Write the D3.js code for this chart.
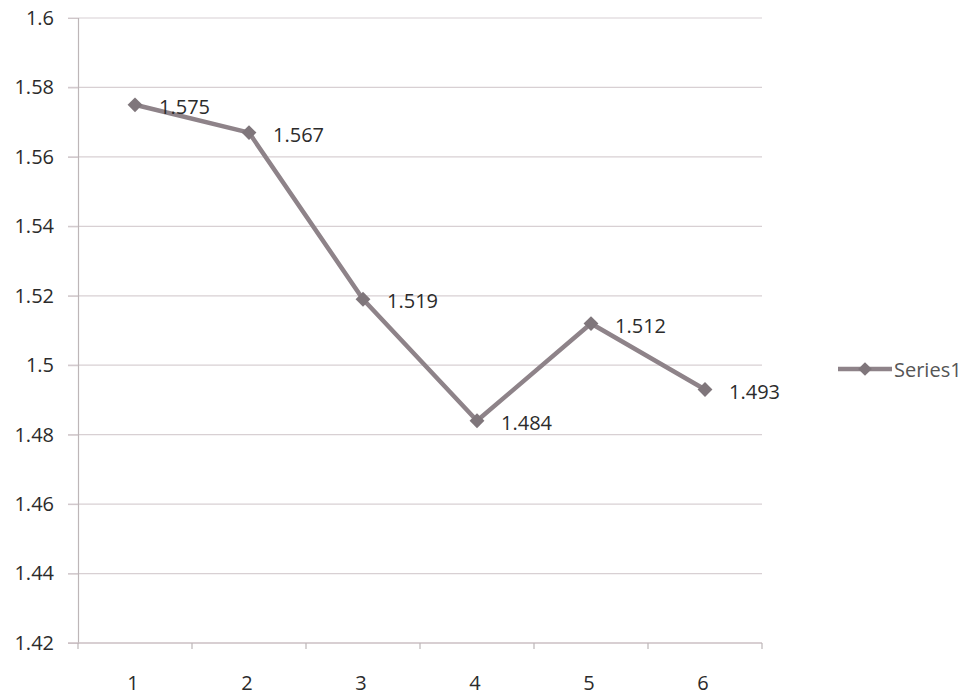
<!DOCTYPE html>
<html>
<head>
<meta charset="utf-8">
<script src="https://cdn.jsdelivr.net/npm/d3@7"></script>
<style>
  html, body { margin: 0; padding: 0; background: #fff; }
  svg { display: block; font-family: "Open Sans", Lato, sans-serif; }
</style>
</head>
<body>
<svg id="chart" width="973" height="698"></svg>
<script>
// Series data
const categories = ["1", "2", "3", "4", "5", "6"];
const values = [1.575, 1.567, 1.519, 1.484, 1.512, 1.493];
const yTicks = [1.42, 1.44, 1.46, 1.48, 1.5, 1.52, 1.54, 1.56, 1.58, 1.6];
const seriesName = "Series1";

const svg = d3.select("#chart");
const plot = { left: 78, right: 762, top: 18, bottom: 643 };

const x = d3.scaleBand().domain(categories).range([plot.left, plot.right]);
const y = d3.scaleLinear().domain([1.42, 1.6]).range([plot.bottom, plot.top]);
const cx = c => x(c) + x.bandwidth() / 2;

const lineColor = "#8e8389";
const markerColor = "#7f767b";
const textColor = "#2b2b2b";
const fontSize = 20;

// horizontal gridlines
svg.append("g")
  .selectAll("line")
  .data(yTicks.filter(d => d > 1.42))
  .join("line")
  .attr("x1", plot.left - 10).attr("x2", plot.right)
  .attr("y1", d => y(d)).attr("y2", d => y(d))
  .attr("stroke", "#d8d0d3").attr("stroke-width", 1.2);

// y axis
const yAxis = svg.append("g")
  .attr("transform", `translate(${plot.left},0)`)
  .call(d3.axisLeft(y).tickValues(yTicks).tickSize(10).tickPadding(14)
    .tickFormat(d => d3.format("")(+d.toFixed(2))));
yAxis.select(".domain").attr("stroke", "#bdb6b8").attr("stroke-width", 1.2);
yAxis.selectAll(".tick line").attr("stroke", "#cfc6c9");
yAxis.selectAll("text").attr("fill", textColor).attr("font-size", fontSize)
  .attr("font-family", "'Open Sans', Lato, sans-serif");

// x axis with boundary ticks
const xg = svg.append("g");
xg.append("line")
  .attr("x1", plot.left - 10).attr("x2", plot.right)
  .attr("y1", plot.bottom).attr("y2", plot.bottom)
  .attr("stroke", "#cbbfc3").attr("stroke-width", 1.4);
const bounds = categories.map(c => x(c)).concat([plot.right]);
xg.selectAll("line.tk").data(bounds).join("line").attr("class", "tk")
  .attr("x1", d => d).attr("x2", d => d)
  .attr("y1", plot.bottom).attr("y2", plot.bottom + 6)
  .attr("stroke", "#bdb6b8").attr("stroke-width", 1.2);
xg.selectAll("text").data(categories).join("text")
  .attr("x", d => cx(d) - 2)
  .attr("y", 690)
  .attr("text-anchor", "middle")
  .attr("fill", textColor).attr("font-size", fontSize)
  .text(d => d);

// series line
const line = d3.line()
  .x((d, i) => cx(categories[i]))
  .y(d => y(d));
svg.append("path")
  .datum(values)
  .attr("d", line)
  .attr("fill", "none")
  .attr("stroke", lineColor)
  .attr("stroke-width", 4.5)
  .attr("stroke-linejoin", "round");

// diamond markers
const diamond = d3.symbol().type(d3.symbolDiamond2).size(140);
svg.append("g").selectAll("path")
  .data(values)
  .join("path")
  .attr("transform", (d, i) => `translate(${cx(categories[i])},${y(d)})`)
  .attr("d", diamond)
  .attr("fill", markerColor);

// data labels
svg.append("g").selectAll("text")
  .data(values)
  .join("text")
  .attr("x", (d, i) => cx(categories[i]) + 24)
  .attr("y", d => y(d) + 9)
  .attr("fill", textColor).attr("font-size", fontSize)
  .text(d => d3.format(".3f")(d));

// legend
const lg = svg.append("g").attr("transform", "translate(838,369)");
lg.append("line").attr("x1", 0).attr("x2", 54).attr("y1", 0).attr("y2", 0)
  .attr("stroke", lineColor).attr("stroke-width", 4.5);
lg.append("path").attr("transform", "translate(27,0)")
  .attr("d", d3.symbol().type(d3.symbolDiamond2).size(120)).attr("fill", markerColor);
lg.append("text").attr("x", 56).attr("y", 7.5)
  .attr("fill", "#555").attr("font-size", fontSize).text(seriesName);
</script>
</body>
</html>
